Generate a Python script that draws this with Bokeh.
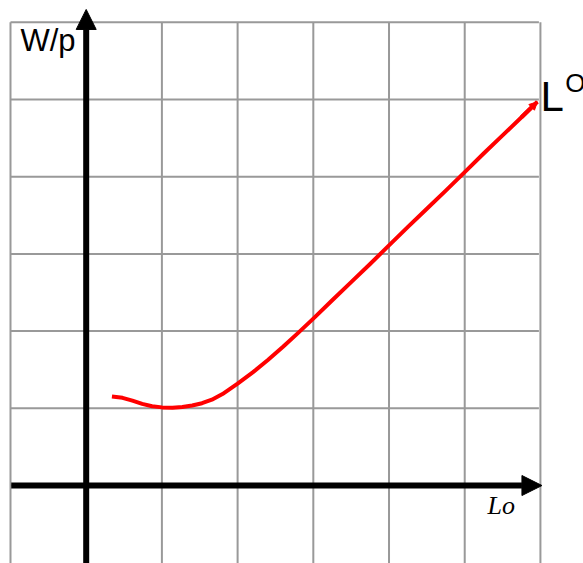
from bokeh.plotting import figure
from bokeh.models import Range1d, Arrow, NormalHead
from bokeh.core.properties import value
from bokeh.embed import file_html
from bokeh.resources import INLINE

# grid positions (in grid units)
grid_x = [-1, 0, 1, 2, 3, 4, 5, 6]
grid_y = [0, 1, 2, 3, 4, 5, 6]

# curve L^O
curve_x = [0.34, 0.48, 0.61, 0.74, 0.87, 1.0, 1.14, 1.27, 1.4, 1.53, 1.66, 1.8, 2.0,
           2.2, 2.4, 2.6, 2.8, 3.0, 3.25, 3.5, 3.75, 4.0, 4.25, 4.5, 4.75, 5.0,
           5.25, 5.5, 5.75, 5.96]
curve_y = [1.153, 1.136, 1.10, 1.058, 1.027, 1.012, 1.008, 1.017, 1.036, 1.066, 1.112,
           1.185, 1.32, 1.465, 1.625, 1.797, 1.977, 2.162, 2.40, 2.635, 2.87, 3.11,
           3.35, 3.585, 3.82, 4.06, 4.30, 4.535, 4.77, 4.97]

y_label = "W/p"
x_label = "Lo"
curve_label = "L"
curve_sup = "O"

p = figure(width=583, height=563,
           x_range=Range1d(-1.132, 6.569), y_range=Range1d(-1.01, 6.282),
           output_backend="svg", toolbar_location=None, min_border=0)
p.axis.visible = False
p.grid.visible = False
p.outline_line_color = None
p.background_fill_color = "white"
p.border_fill_color = "white"

grey = "#999999"
# vertical grid lines
p.segment(x0=grid_x, y0=[-1.2] * len(grid_x), x1=grid_x, y1=[6.0] * len(grid_x),
          line_color=grey, line_width=2)
# horizontal grid lines
p.segment(x0=[-1] * len(grid_y), y0=grid_y, x1=[5.98] * len(grid_y), y1=grid_y,
          line_color=grey, line_width=2)

# axes as arrows
p.add_layout(Arrow(end=NormalHead(size=20, fill_color="black", line_color="black", line_width=1),
                   x_start=-0.99, y_start=0.0, x_end=6.02, y_end=0.0,
                   line_color="black", line_width=6))
p.add_layout(Arrow(end=NormalHead(size=20, fill_color="black", line_color="black", line_width=1),
                   x_start=0.0, y_start=-1.2, x_end=0.0, y_end=6.166,
                   line_color="black", line_width=6))

# curve
p.line(curve_x, curve_y, line_color="#ff0000", line_width=4, line_join="round")
p.add_layout(Arrow(end=NormalHead(size=8, fill_color="#ff0000", line_color="#ff0000", line_width=1),
                   x_start=curve_x[-2], y_start=curve_y[-2], x_end=curve_x[-1], y_end=curve_y[-1],
                   line_color="#ff0000", line_width=4))

# labels (anchored at the middle of the capitals)
p.text(x=[-0.868], y=[5.758], text=[y_label], text_font=value("Liberation Sans"),
       text_font_size="31px", text_color="black", text_baseline="alphabetic")
p.text(x=[6.0], y=[5.041], text=[curve_label], text_font=value("Liberation Sans"),
       text_font_size="42px", text_color="black", text_baseline="alphabetic")
p.text(x=[6.327], y=[5.215], text=[curve_sup], text_font=value("Liberation Sans"),
       text_font_size="26px", text_color="black", text_baseline="alphabetic")
p.text(x=[5.30], y=[-0.264], text=[x_label], text_font=value("Liberation Serif"),
       text_font_style="italic",
       text_font_size="26px", text_color="black", text_baseline="alphabetic")

open("out.html", "w").write(file_html(p, INLINE))
